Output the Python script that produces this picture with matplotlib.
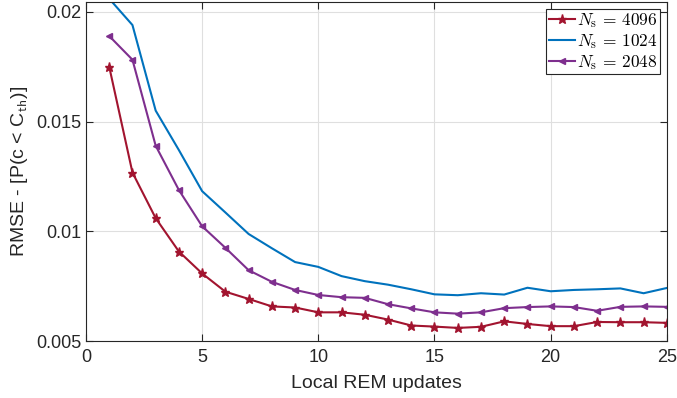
import matplotlib
matplotlib.use("Agg")
import matplotlib.pyplot as plt
import numpy as np

plt.rcParams['font.family'] = ['Liberation Sans', 'DejaVu Sans']
plt.rcParams['mathtext.fontset'] = 'cm'

updates = np.arange(1, 26)

# N_s = 4096
rmse4096 = [0.0175, 0.01268, 0.0106, 0.00908, 0.00808, 0.00725, 0.00692, 0.00658, 0.00653, 0.00631,
            0.00631, 0.0062, 0.00598, 0.00571, 0.00566, 0.0056, 0.00565, 0.0059, 0.00578, 0.00568,
            0.00568, 0.00587, 0.00586, 0.00586, 0.00583]
# N_s = 1024
rmse1024 = [0.0206, 0.0194, 0.0155, 0.01370, 0.01183, 0.01086, 0.00988, 0.00923, 0.0086, 0.00838,
            0.00796, 0.00773, 0.00757, 0.00736, 0.00713, 0.00709, 0.00718, 0.00712, 0.00743, 0.00727,
            0.00733, 0.00736, 0.0074, 0.00718, 0.00742]
# N_s = 2048
rmse2048 = [0.0189, 0.01782, 0.0139, 0.01188, 0.01023, 0.00925, 0.00823, 0.0077, 0.00733, 0.0071,
            0.007, 0.00697, 0.00668, 0.00649, 0.00631, 0.00625, 0.00631, 0.0065, 0.00655, 0.00658,
            0.00655, 0.00638, 0.00656, 0.00658, 0.00656]

fig = plt.figure(figsize=(6.77, 3.98), dpi=100)
ax = fig.add_axes([0.127, 0.143, 0.858, 0.852])

ax.plot(updates, rmse4096, color='#A2142F', lw=1.5, marker='*', ms=6.5, label=r'$N_\mathrm{s}\,=\,4096$')
ax.plot(updates, rmse1024, color='#0072BD', lw=1.5, label=r'$N_\mathrm{s}\,=\,1024$')
ax.plot(updates, rmse2048, color='#7E2F8E', lw=1.5, marker='<', ms=5, label=r'$N_\mathrm{s}\,=\,2048$')

ax.set_xlim(0, 25)
ax.set_ylim(0.005, 0.02045)
ax.set_xticks([0, 5, 10, 15, 20, 25])
ax.set_yticks([0.005, 0.01, 0.015, 0.02])
ax.set_yticklabels(['0.005', '0.01', '0.015', '0.02'])
ax.tick_params(direction='in', top=True, right=True, labelsize=13, colors='#262626', length=5)
ax.tick_params(axis='x', pad=6)
for s in ax.spines.values():
    s.set_color('#262626')
    s.set_linewidth(0.8)
ax.grid(True, color='#DFDFDF', lw=0.8)
ax.set_axisbelow(True)

ax.set_xlabel('Local REM updates', fontsize=14, color='#262626', labelpad=6)
ax.set_ylabel(r'RMSE - [P(c < C$_{\mathsf{th}}$)]', fontsize=14, color='#262626', labelpad=4)

leg = ax.legend(loc='upper right', fontsize=12.5, fancybox=False, edgecolor='#262626',
                framealpha=1, borderpad=0.15, handlelength=1.5, handletextpad=0.1,
                labelspacing=0.1, borderaxespad=0.4)
leg.get_frame().set_linewidth(0.8)

fig.savefig('out.png', dpi=100)
